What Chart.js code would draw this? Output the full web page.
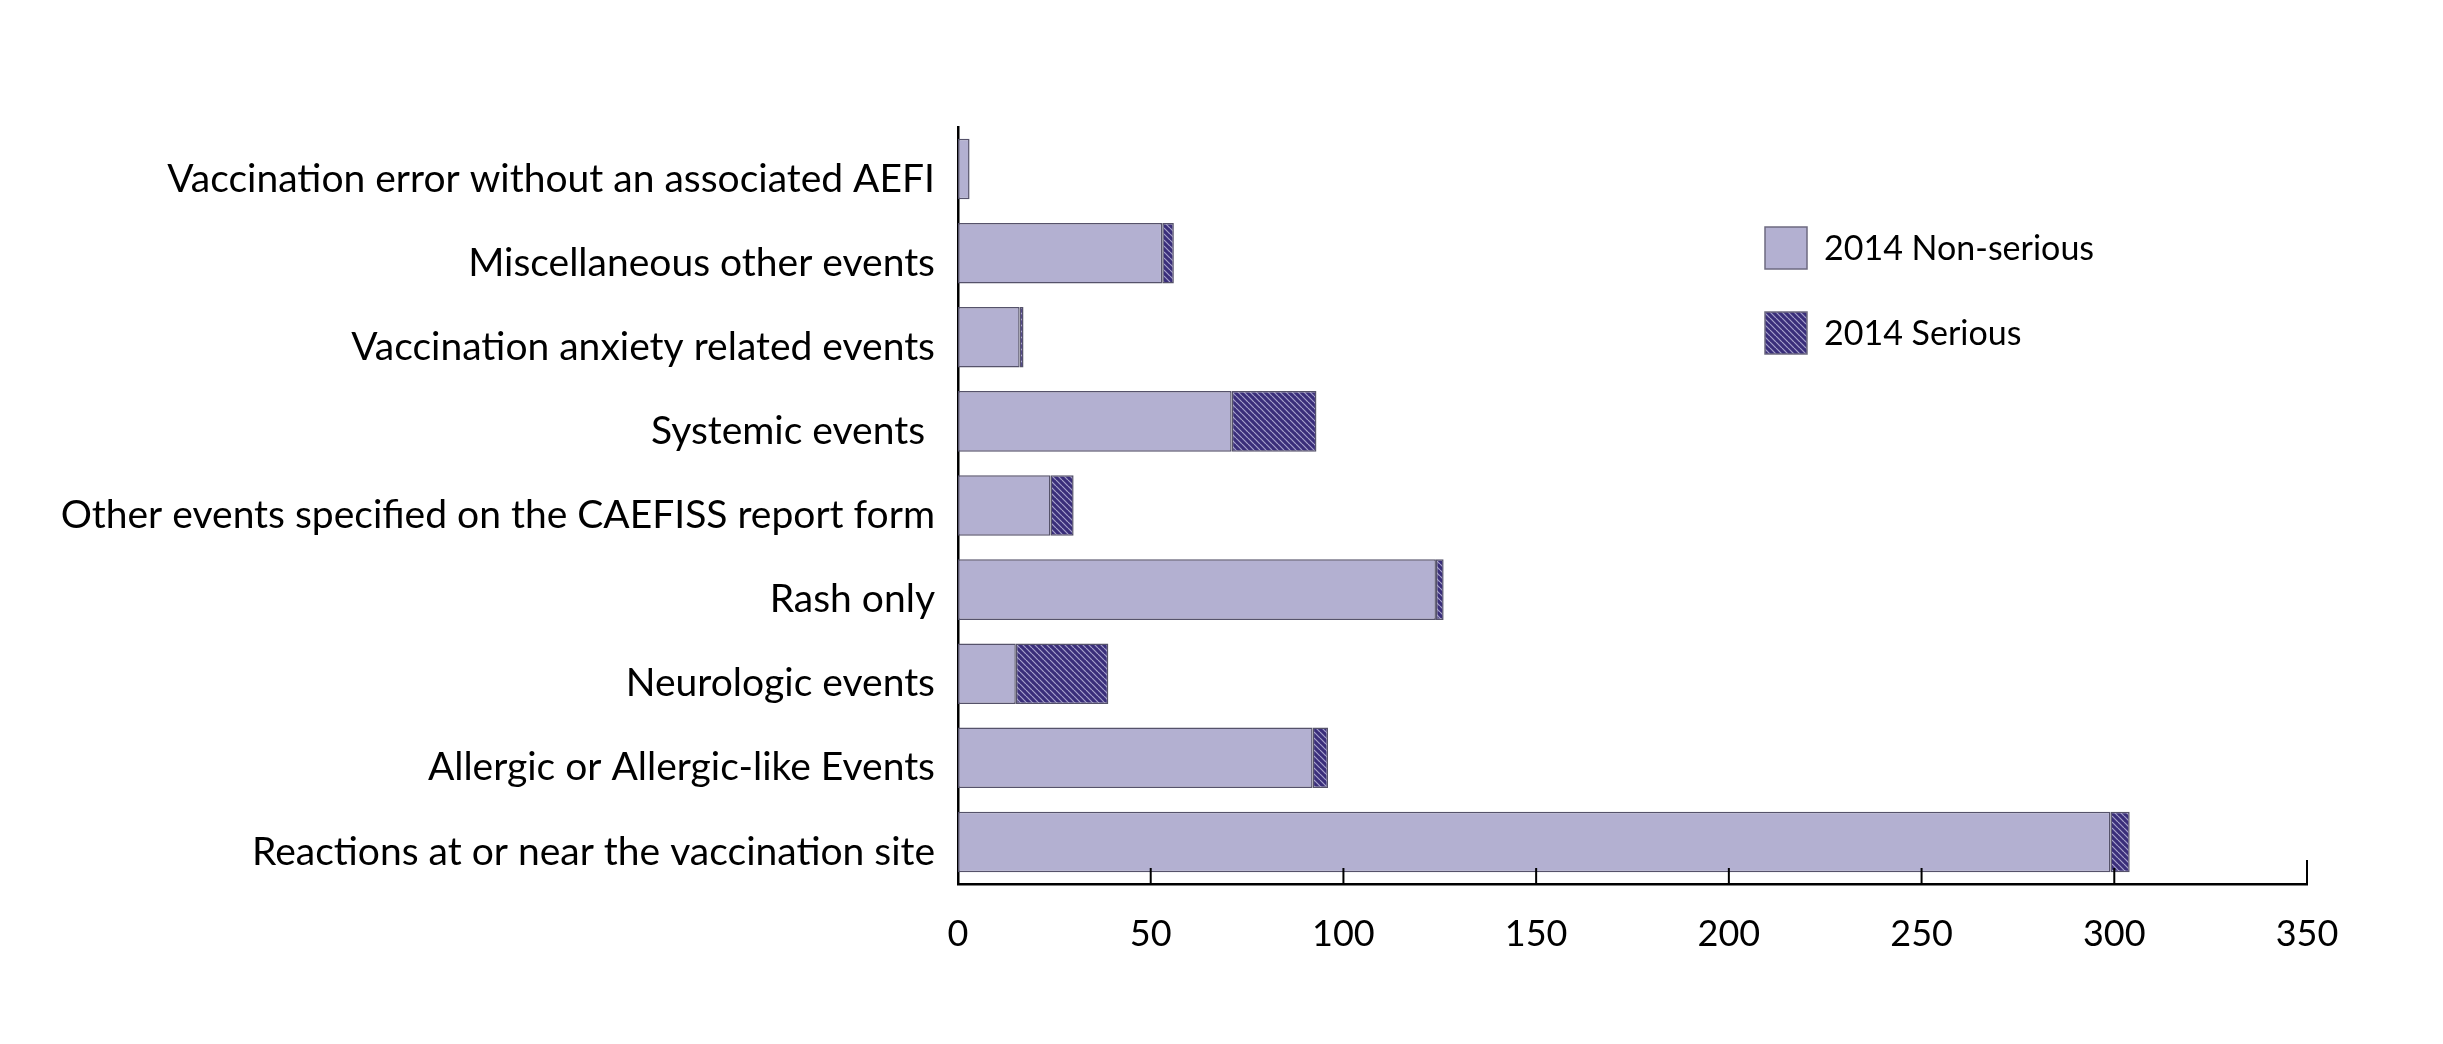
<!DOCTYPE html>
<html>
<head>
<meta charset="utf-8">
<script src="https://cdn.jsdelivr.net/npm/chart.js@4/dist/chart.umd.min.js"></script>
<style>
  html, body { margin: 0; padding: 0; background: #fff; }
  #wrap { width: 2443px; height: 1044px; }
</style>
</head>
<body>
<div id="wrap"><canvas id="aefiChart"></canvas></div>
<script>
// categories, top to bottom as in the figure
const categories = [
  "Vaccination error without an associated AEFI",
  "Miscellaneous other events",
  "Vaccination anxiety related events",
  "Systemic events ",
  "Other events specified on the CAEFISS report form",
  "Rash only",
  "Neurologic events",
  "Allergic or Allergic-like Events",
  "Reactions at or near the vaccination site"
];
const nonSerious = [3, 53, 16, 71, 24, 124, 15, 92, 299];
const serious = [0, 3, 1, 22, 6, 2, 24, 4, 5];
const seriesLabels = ["2014 Non-serious", "2014 Serious"];
const xTicks = [0, 50, 100, 150, 200, 250, 300, 350];

const FONT = "Lato, 'Open Sans', sans-serif";

// hatched fill for the serious part
function makeHatch() {
  const c = document.createElement("canvas");
  c.width = 6; c.height = 6;
  const g = c.getContext("2d");
  g.fillStyle = "#3a2e7a";
  g.fillRect(0, 0, 6, 6);
  g.strokeStyle = "#a7a2cc";
  g.lineWidth = 1.2;
  [-6, 0, 6].forEach((k) => {
    g.beginPath();
    g.moveTo(k, 0);
    g.lineTo(k + 6, 6);
    g.stroke();
  });
  return g.createPattern(c, "repeat");
}
const hatch = makeHatch();

// inward tick marks on the x axis
const innerTicks = {
  id: "innerTicks",
  afterDraw(chart) {
    const ctx = chart.ctx;
    const sx = chart.scales.x;
    const bottom = chart.chartArea.bottom;
    ctx.save();
    ctx.strokeStyle = "#000";
    ctx.lineWidth = 2;
    xTicks.forEach((v, i) => {
      if (v === 0) return;
      const px = sx.getPixelForValue(v);
      const len = i === xTicks.length - 1 ? 24 : 16;
      ctx.beginPath();
      ctx.moveTo(px, bottom);
      ctx.lineTo(px, bottom - len);
      ctx.stroke();
    });
    ctx.restore();
  }
};

// legend placed to the right, inside the plot
const boxLegend = {
  id: "boxLegend",
  afterDraw(chart) {
    const ctx = chart.ctx;
    ctx.save();
    chart.data.datasets.forEach((ds, i) => {
      const x = 1765, y = 227 + i * 85, s = 42;
      ctx.fillStyle = ds.backgroundColor;
      ctx.fillRect(x, y, s, s);
      ctx.strokeStyle = "#6d6a80";
      ctx.lineWidth = 1.5;
      ctx.strokeRect(x, y, s, s);
      ctx.fillStyle = "#000";
      ctx.font = "34px " + FONT;
      ctx.textBaseline = "middle";
      ctx.textAlign = "left";
      ctx.fillText(ds.label, 1824, y + s / 2 + 1);
    });
    ctx.restore();
  }
};

new Chart(document.getElementById("aefiChart"), {
  type: "bar",
  data: {
    labels: categories,
    datasets: [
      {
        label: seriesLabels[0],
        data: nonSerious,
        backgroundColor: "#b3b0d1",
        borderColor: "#55526a",
        borderWidth: 1.5,
        borderSkipped: false,
        barPercentage: 0.72,
        categoryPercentage: 1
      },
      {
        label: seriesLabels[1],
        data: serious,
        backgroundColor: hatch,
        borderColor: "#55526a",
        borderWidth: 1.5,
        borderSkipped: false,
        barPercentage: 0.72,
        categoryPercentage: 1
      }
    ]
  },
  options: {
    indexAxis: "y",
    responsive: true,
    maintainAspectRatio: false,
    animation: false,
    layout: { padding: { top: 127, right: 136, left: 0, bottom: 0 } },
    plugins: {
      legend: { display: false },
      tooltip: { enabled: false }
    },
    scales: {
      x: {
        stacked: true,
        min: 0,
        max: 350,
        afterBuildTicks: (s) => { s.ticks = xTicks.map((v) => ({ value: v })); },
        afterFit: (s) => { s.height = 160; },
        grid: { display: false },
        border: { display: true, color: "#000", width: 2.5 },
        ticks: {
          color: "#000",
          padding: 21,
          font: { family: FONT, size: 36 }
        }
      },
      y: {
        stacked: true,
        afterFit: (s) => { s.width = 958; },
        grid: { display: false },
        border: { display: true, color: "#000", width: 2.5 },
        ticks: {
          color: "#000",
          padding: 15,
          labelOffset: 10,
          font: { family: FONT, size: 39 }
        }
      }
    }
  },
  plugins: [innerTicks, boxLegend]
});
</script>
</body>
</html>
